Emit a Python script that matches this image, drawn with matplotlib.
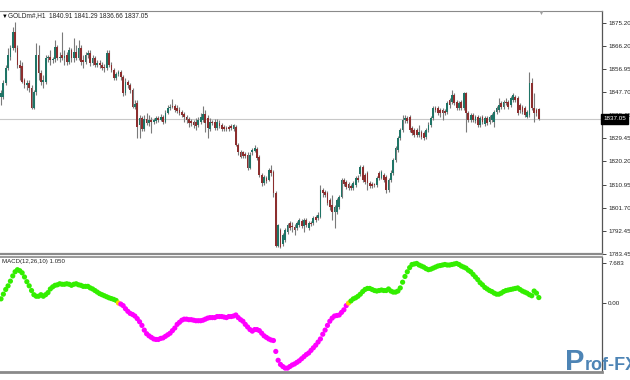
import matplotlib
matplotlib.use("Agg")
import matplotlib.pyplot as plt
import numpy as np

plt.rcParams["font.family"] = ["Liberation Sans", "DejaVu Sans"]

# GOLDm#, H1 candles
opens = [
    1845.8, 1845.8, 1851.4, 1857.3, 1861.7, 1865.3, 1871.6, 1865.3, 1858.5, 1858.1,
    1852.6, 1850.6, 1851.4, 1849.4, 1841.5, 1847.8, 1862.5, 1855.3, 1851.8, 1851.8,
    1861.3, 1861.7, 1860.5, 1860.9, 1865.7, 1861.3, 1862.5, 1861.3, 1862.5, 1859.7,
    1864.5, 1861.3, 1863.7, 1861.3, 1865.3, 1860.5, 1859.7, 1862.5, 1863.3, 1859.3,
    1861.3, 1858.5, 1859.3, 1858.5, 1857.3, 1857.3, 1863.3, 1858.5, 1856.5, 1853.4,
    1854.9, 1855.7, 1853.8, 1847.4, 1851.8, 1850.6, 1848.6, 1841.9, 1843.4, 1834.7,
    1837.5, 1833.1, 1837.1, 1835.5, 1836.7, 1835.9, 1836.3, 1837.5, 1836.7, 1837.9,
    1835.9, 1839.5, 1841.5, 1842.2, 1842.2, 1841.5, 1840.7, 1839.9, 1839.1, 1837.9,
    1837.1, 1836.3, 1835.9, 1835.9, 1834.7, 1835.9, 1836.7, 1839.1, 1837.5, 1833.1,
    1835.9, 1835.9, 1833.5, 1835.5, 1834.7, 1833.9, 1833.5, 1833.9, 1834.3, 1833.1,
    1833.9, 1826.8, 1824.0, 1823.7, 1823.2, 1822.8, 1817.6, 1823.7, 1824.4, 1825.2,
    1822.0, 1814.9, 1811.7, 1813.7, 1812.9, 1816.8, 1816.0, 1807.7, 1786.3, 1793.0,
    1787.1, 1789.0, 1792.2, 1795.8, 1794.2, 1794.2, 1793.8, 1795.0, 1796.6, 1794.6,
    1797.0, 1793.8, 1795.8, 1795.8, 1798.2, 1797.8, 1798.2, 1808.9, 1808.1, 1807.7,
    1804.9, 1802.9, 1800.2, 1800.2, 1802.1, 1806.1, 1812.9, 1812.1, 1811.3, 1810.5,
    1809.7, 1810.9, 1813.7, 1815.2, 1818.0, 1814.9, 1815.6, 1811.7, 1811.3, 1810.9,
    1810.9, 1815.6, 1813.7, 1814.9, 1814.1, 1808.9, 1812.9, 1815.6, 1820.8, 1824.8,
    1829.5, 1832.7, 1836.7, 1837.5, 1837.9, 1833.5, 1832.7, 1832.7, 1830.7, 1831.9,
    1831.5, 1829.9, 1832.7, 1834.7, 1837.5, 1841.5, 1841.5, 1840.7, 1840.7, 1840.3,
    1839.9, 1844.6, 1843.8, 1846.6, 1843.8, 1841.5, 1843.8, 1841.5, 1847.4, 1839.5,
    1836.7, 1838.7, 1836.3, 1837.9, 1834.7, 1837.9, 1835.1, 1837.5, 1835.9, 1836.7,
    1835.9, 1839.9, 1840.7, 1843.4, 1841.9, 1843.8, 1843.8, 1842.6, 1844.6, 1845.8,
    1845.4, 1842.6, 1841.9, 1841.5, 1837.9, 1838.7, 1851.4, 1841.5, 1840.7, 1840.91,
]
highs = [
    1848.6, 1852.6, 1858.5, 1865.3, 1866.5, 1873.6, 1875.6, 1866.5, 1860.5, 1859.7,
    1853.4, 1852.6, 1852.6, 1850.6, 1848.6, 1867.3, 1866.5, 1856.5, 1854.6, 1862.5,
    1862.5, 1864.5, 1861.7, 1868.5, 1866.5, 1863.7, 1871.6, 1864.5, 1863.7, 1865.7,
    1865.3, 1869.2, 1866.5, 1868.5, 1866.5, 1862.5, 1863.7, 1864.5, 1864.5, 1862.5,
    1862.1, 1860.5, 1860.5, 1859.7, 1858.9, 1864.5, 1864.5, 1859.7, 1857.3, 1855.7,
    1856.5, 1856.5, 1854.6, 1853.4, 1852.6, 1851.4, 1849.4, 1844.6, 1844.6, 1838.7,
    1838.3, 1838.7, 1839.5, 1838.7, 1837.9, 1837.5, 1838.3, 1838.3, 1839.1, 1838.7,
    1840.7, 1842.6, 1843.0, 1845.0, 1843.0, 1842.6, 1841.9, 1840.7, 1839.9, 1838.7,
    1837.9, 1837.1, 1836.7, 1837.5, 1837.9, 1839.5, 1842.2, 1840.7, 1838.7, 1837.5,
    1836.7, 1837.1, 1837.1, 1836.7, 1835.5, 1834.7, 1834.3, 1834.7, 1835.1, 1835.1,
    1834.7, 1827.6, 1824.8, 1824.4, 1824.0, 1823.7, 1824.0, 1825.6, 1826.8, 1826.0,
    1822.8, 1815.6, 1814.9, 1814.5, 1817.6, 1818.8, 1816.8, 1808.5, 1795.4, 1793.8,
    1791.8, 1793.8, 1795.8, 1796.6, 1796.2, 1795.4, 1796.6, 1797.8, 1797.4, 1797.8,
    1797.8, 1796.6, 1796.6, 1798.6, 1799.0, 1800.2, 1810.9, 1809.7, 1808.9, 1808.5,
    1805.7, 1806.9, 1802.9, 1805.7, 1806.9, 1813.7, 1813.7, 1812.9, 1812.1, 1811.3,
    1812.5, 1814.5, 1814.9, 1818.8, 1818.8, 1815.6, 1816.4, 1812.5, 1812.1, 1811.7,
    1814.5, 1816.4, 1816.8, 1815.6, 1814.9, 1813.7, 1816.8, 1821.6, 1826.4, 1830.2,
    1833.5, 1838.7, 1838.7, 1838.3, 1838.7, 1834.3, 1833.5, 1833.5, 1834.7, 1832.7,
    1832.3, 1833.5, 1835.9, 1838.3, 1842.2, 1842.2, 1842.2, 1841.5, 1841.5, 1841.1,
    1844.2, 1845.4, 1848.6, 1847.4, 1844.6, 1844.2, 1844.6, 1847.8, 1847.8, 1840.3,
    1839.5, 1839.5, 1838.7, 1838.7, 1838.3, 1838.7, 1838.3, 1838.3, 1838.7, 1839.5,
    1840.7, 1842.2, 1845.4, 1844.2, 1844.6, 1845.4, 1844.6, 1846.2, 1847.4, 1846.6,
    1846.2, 1843.4, 1842.6, 1842.2, 1840.7, 1855.7, 1853.4, 1847.4, 1841.5, 1841.29,
]
lows = [
    1842.6, 1845.0, 1850.6, 1856.5, 1860.5, 1864.5, 1863.7, 1857.3, 1852.6, 1851.4,
    1849.4, 1848.6, 1847.8, 1841.1, 1841.1, 1846.6, 1852.6, 1850.6, 1849.4, 1851.0,
    1859.7, 1858.5, 1859.3, 1859.7, 1860.5, 1859.7, 1860.5, 1858.5, 1858.5, 1858.9,
    1859.7, 1859.7, 1860.5, 1860.5, 1858.5, 1857.3, 1858.9, 1861.3, 1858.1, 1858.5,
    1857.7, 1857.7, 1857.3, 1856.5, 1855.7, 1856.5, 1857.7, 1855.7, 1852.6, 1852.6,
    1854.2, 1852.6, 1846.2, 1846.6, 1849.4, 1847.4, 1841.5, 1841.1, 1829.5, 1829.5,
    1832.3, 1832.3, 1834.7, 1834.3, 1831.5, 1835.1, 1835.5, 1835.9, 1836.3, 1835.1,
    1835.5, 1839.1, 1840.7, 1841.5, 1839.9, 1839.5, 1838.7, 1837.9, 1835.9, 1835.5,
    1833.9, 1834.3, 1833.5, 1832.7, 1833.9, 1835.1, 1835.9, 1831.9, 1829.5, 1832.3,
    1834.7, 1832.7, 1832.7, 1833.5, 1832.3, 1832.3, 1832.3, 1832.3, 1832.7, 1832.3,
    1826.4, 1822.8, 1821.6, 1821.6, 1821.6, 1816.8, 1817.2, 1822.8, 1823.7, 1820.8,
    1814.1, 1810.5, 1810.9, 1811.7, 1812.5, 1814.5, 1806.1, 1785.9, 1785.9, 1785.5,
    1786.3, 1788.2, 1791.4, 1793.0, 1792.2, 1791.0, 1793.0, 1794.2, 1793.8, 1792.2,
    1794.2, 1793.0, 1794.6, 1795.0, 1796.2, 1797.0, 1797.8, 1806.1, 1806.1, 1802.9,
    1801.0, 1797.0, 1793.8, 1799.4, 1801.4, 1805.7, 1810.5, 1809.3, 1808.9, 1808.9,
    1808.9, 1810.1, 1812.1, 1814.5, 1812.1, 1811.3, 1808.9, 1809.7, 1809.7, 1810.1,
    1810.1, 1812.9, 1813.3, 1812.1, 1807.7, 1808.1, 1812.1, 1814.9, 1820.0, 1824.0,
    1828.8, 1831.9, 1835.5, 1835.5, 1831.9, 1830.7, 1829.9, 1829.9, 1829.9, 1829.1,
    1828.8, 1829.1, 1831.9, 1833.9, 1836.7, 1839.9, 1838.7, 1837.9, 1836.7, 1838.7,
    1839.1, 1841.5, 1843.0, 1842.6, 1840.7, 1840.7, 1840.7, 1840.7, 1831.9, 1835.9,
    1835.9, 1835.9, 1835.5, 1833.9, 1833.9, 1835.1, 1834.3, 1834.7, 1835.1, 1835.9,
    1833.9, 1839.1, 1839.9, 1841.1, 1841.1, 1842.6, 1841.1, 1841.9, 1843.8, 1843.8,
    1838.7, 1839.5, 1839.1, 1837.9, 1837.5, 1837.9, 1840.7, 1835.9, 1838.3, 1836.66,
]
closes = [
    1847.4, 1851.4, 1857.3, 1862.5, 1865.3, 1871.6, 1865.3, 1858.5, 1857.3, 1851.8,
    1850.6, 1851.4, 1849.4, 1841.5, 1847.8, 1862.5, 1855.3, 1851.8, 1852.6, 1861.3,
    1861.7, 1860.5, 1860.9, 1865.7, 1861.3, 1861.7, 1861.3, 1862.1, 1859.7, 1864.5,
    1861.3, 1863.7, 1861.3, 1865.3, 1859.7, 1859.7, 1862.5, 1863.3, 1859.3, 1861.3,
    1858.5, 1859.3, 1858.5, 1857.3, 1857.2, 1863.3, 1858.5, 1856.5, 1853.4, 1854.9,
    1855.7, 1853.8, 1847.4, 1851.8, 1850.6, 1848.6, 1841.9, 1843.0, 1833.9, 1837.5,
    1833.1, 1837.1, 1835.5, 1836.7, 1835.9, 1836.7, 1837.5, 1836.7, 1837.9, 1835.9,
    1839.5, 1841.5, 1841.9, 1841.9, 1840.7, 1840.3, 1839.5, 1838.7, 1837.9, 1836.7,
    1835.5, 1835.5, 1834.7, 1834.3, 1836.7, 1837.9, 1839.1, 1835.5, 1833.5, 1835.9,
    1835.5, 1833.5, 1835.9, 1834.3, 1833.1, 1833.1, 1833.2, 1833.1, 1833.5, 1834.7,
    1826.8, 1824.0, 1822.0, 1822.4, 1822.4, 1817.6, 1822.8, 1824.8, 1825.6, 1821.6,
    1814.9, 1811.7, 1814.1, 1812.5, 1816.8, 1815.6, 1807.7, 1786.3, 1795.0, 1785.9,
    1791.0, 1793.0, 1795.0, 1793.8, 1794.1, 1793.0, 1795.8, 1797.0, 1794.6, 1797.0,
    1795.0, 1795.8, 1795.4, 1797.8, 1797.0, 1799.0, 1808.9, 1807.7, 1806.9, 1803.7,
    1802.1, 1800.2, 1802.1, 1804.9, 1806.1, 1812.9, 1811.3, 1810.1, 1809.7, 1809.7,
    1811.7, 1813.7, 1812.9, 1818.0, 1812.9, 1812.1, 1811.7, 1810.5, 1810.5, 1810.8,
    1813.7, 1813.7, 1816.0, 1812.9, 1808.9, 1812.9, 1815.6, 1820.8, 1825.6, 1829.5,
    1832.7, 1836.7, 1837.5, 1836.3, 1832.7, 1831.5, 1830.7, 1830.7, 1831.9, 1829.9,
    1829.5, 1832.7, 1834.7, 1837.5, 1841.5, 1840.7, 1839.5, 1839.5, 1839.5, 1839.5,
    1843.4, 1842.6, 1846.6, 1843.4, 1841.5, 1843.4, 1841.5, 1847.4, 1839.5, 1836.7,
    1838.7, 1836.7, 1837.9, 1834.7, 1837.5, 1835.9, 1837.5, 1835.5, 1837.9, 1838.7,
    1839.9, 1841.5, 1842.6, 1841.9, 1843.8, 1843.5, 1841.9, 1845.4, 1846.6, 1844.6,
    1839.5, 1840.7, 1839.9, 1838.7, 1839.9, 1851.4, 1841.5, 1839.5, 1839.5, 1837.05,
]

# MACD(12,26,10) dots, one per bar
macd = [
    0.8, 1.7, 2.6, 3.3, 4.2, 5.2, 6.0, 6.4, 6.2, 5.8,
    5.0, 4.1, 3.3, 2.4, 1.6, 1.3, 1.3, 1.6, 1.3, 1.6,
    2.0, 2.7, 3.1, 3.4, 3.5, 3.7, 3.6, 3.6, 3.7, 3.6,
    3.4, 3.6, 3.7, 3.5, 3.4, 3.2, 3.2, 3.2, 2.9, 2.7,
    2.4, 2.1, 1.8, 1.6, 1.4, 1.2, 1.0, 0.85, 0.7, 0.5,
    0.0, -0.2, -0.5, -1.1, -1.6, -2.0, -2.2, -2.5, -3.0, -3.6,
    -4.3, -5.2, -5.9, -6.3, -6.6, -6.9, -7.0, -7.0, -6.8, -6.7,
    -6.4, -6.1, -5.8, -5.3, -4.8, -4.1, -3.7, -3.3, -3.1, -3.1,
    -3.2, -3.2, -3.3, -3.4, -3.4, -3.4, -3.3, -3.1, -2.9, -2.8,
    -2.8, -2.8, -2.6, -2.6, -2.6, -2.7, -2.8, -2.6, -2.6, -2.5,
    -2.3, -2.8, -3.2, -3.5, -4.1, -4.6, -5.1, -5.4, -5.1, -5.1,
    -5.3, -5.8, -6.3, -6.6, -6.9, -7.1, -7.2, -9.3, -11.0, -11.8,
    -12.2, -12.5, -12.5, -12.2, -11.9, -11.7, -11.4, -11.1, -10.7, -10.3,
    -9.9, -9.6, -9.1, -8.6, -8.1, -7.5, -6.9, -6.0, -5.2, -4.3,
    -3.5, -2.9, -2.5, -2.4, -2.3, -1.8, -1.3, -0.5, 0.0, 0.4,
    0.8, 1.0, 1.3, 1.7, 2.2, 2.6, 2.8, 2.8, 2.6, 2.4,
    2.3, 2.4, 2.5, 2.4, 2.4, 2.7, 2.3, 2.1, 2.1, 2.3,
    2.9, 4.0, 5.1, 6.0, 6.8, 7.4, 7.5, 7.6, 7.3, 7.1,
    6.9, 6.6, 6.4, 6.5, 6.7, 6.9, 7.1, 7.2, 7.3, 7.4,
    7.3, 7.3, 7.4, 7.5, 7.6, 7.4, 7.1, 6.9, 6.7, 6.3,
    6.0, 5.5, 5.0, 4.5, 3.9, 3.5, 3.0, 2.7, 2.4, 2.2,
    1.9, 1.7, 1.7, 1.9, 2.2, 2.4, 2.5, 2.6, 2.7, 2.8,
    2.9, 2.6, 2.3, 2.1, 1.9, 1.6, 1.4, 2.3, 1.9, 1.05,
]

price_ticks = [1875.20, 1866.20, 1856.95, 1847.70, 1838.45, 1829.45,
               1820.20, 1810.95, 1801.70, 1792.45, 1783.45]
macd_ticks = [7.683, 0.0]
macd_tick_labels = ["7.683", "0.00"]

header = "GOLDm#,H1  1840.91 1841.29 1836.66 1837.05"
macd_label = "MACD(12,26,10) 1.050"

BULL = "#1f7466"
BEAR = "#8c2e2e"
WICK = "#7a7a7a"
FRAME = "#8a8a8a"
TICK_FS = 4.5

W, H = 630, 380
fig = plt.figure(figsize=(6.3, 3.8), dpi=100)
fig.patch.set_facecolor("white")

ax = fig.add_axes([0, 1 - 254 / H, 602 / W, (254 - 11) / H])
ax2 = fig.add_axes([0, 1 - 372 / H, 602 / W, (372 - 257) / H])

x = np.arange(len(closes))
o = np.array(opens)
c = np.array(closes)

# candles
ax.vlines(x, lows, highs, color=WICK, lw=0.8, zorder=2)
body_col = [BULL if cc > oo else (BEAR if cc < oo else WICK) for oo, cc in zip(o, c)]
ax.bar(x, np.maximum(np.abs(c - o), 0.35), bottom=np.minimum(o, c),
       width=0.75, color=body_col, lw=0, zorder=3)
ax.axhline(closes[-1], color="#c8c8c8", lw=0.8, zorder=1)

ax.set_xlim(-0.43, 255.9)
ax.set_ylim(1783.3, 1880.0)
ax.set_xticks([])
ax.yaxis.tick_right()
ax.set_yticks(price_ticks)
ax.set_yticklabels(["%.2f" % t for t in price_ticks])

# current price tag
ax.text(1.002, closes[-1], "%.2f" % closes[-1], transform=ax.get_yaxis_transform(),
        ha="left", va="center", fontsize=TICK_FS, color="white",
        clip_on=False, zorder=10,
        bbox=dict(boxstyle="square,pad=0.35", fc="black", ec="black"))

# MACD dots
dot_col = ["#33ee00" if v > 0 else ("#ff00ff" if v < 0 else "#ffd000") for v in macd]
ax2.scatter(x, macd, s=14, c=dot_col, linewidths=0, zorder=3)
ax2.set_xlim(-0.43, 255.9)
ax2.set_ylim(-13.25, 8.84)
ax2.set_xticks([])
ax2.yaxis.tick_right()
ax2.set_yticks(macd_ticks)
ax2.set_yticklabels(macd_tick_labels)

for a in (ax, ax2):
    a.set_facecolor("white")
    a.tick_params(axis="y", length=3, width=0.7, color="#444444",
                  labelsize=TICK_FS, pad=1.5, labelcolor="#222222")
    a.spines["left"].set_visible(False)
    a.spines["right"].set_color("#555555")
    a.spines["right"].set_linewidth(0.9)
    for s in ("top", "bottom"):
        a.spines[s].set_color(FRAME)
ax.spines["top"].set_linewidth(0.8)
ax.spines["bottom"].set_linewidth(1.6)
ax2.spines["top"].set_linewidth(1.2)
ax2.spines["bottom"].set_linewidth(2.0)

# header texts
fig.text(2 / W, 1 - 16 / H, "▼", fontsize=4.2, color="black", va="center")
fig.text(8 / W, 1 - 16 / H, header, fontsize=4.7, color="#222222", va="center")
fig.text(541 / W, 1 - 13 / H, "▼", fontsize=5, color="#a0a0a0", ha="center", va="center")
fig.text(2 / W, 1 - 262 / H, macd_label, fontsize=4.4, color="#222222", va="center")

# watermark
fig.text(565 / W, 1 - 362 / H, "P", fontsize=21, fontweight="bold", color="#3a77ad",
         va="center", alpha=0.9)
fig.text(585 / W, 1 - 366 / H, "rof-FX", fontsize=13, fontweight="bold",
         color="#3a77ad", va="center", alpha=0.9)

fig.savefig("out.png", dpi=100, facecolor="white")
plt.close(fig)
